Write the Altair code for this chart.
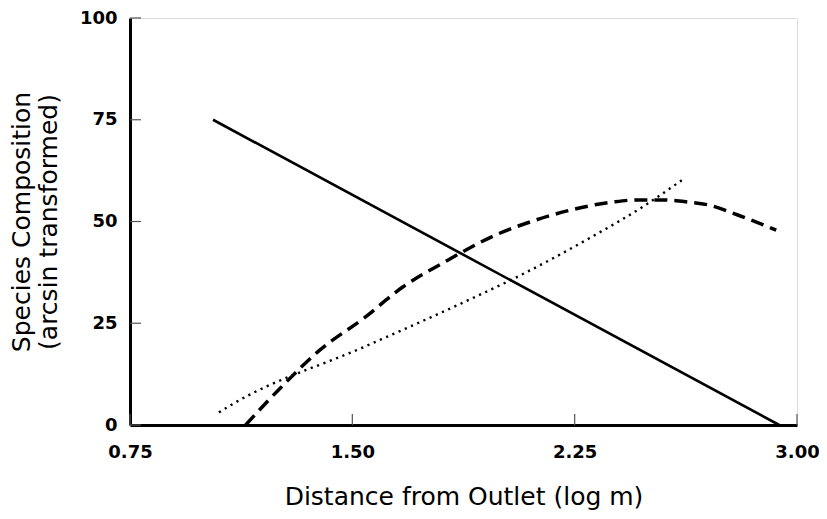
import altair as alt
import pandas as pd

# Axis ticks
x_ticks = [0.75, 1.50, 2.25, 3.00]
y_ticks = [0, 25, 50, 75, 100]

# Solid line
solid_x = [1.03, 2.94]
solid_y = [75.0, 0.0]

# Dashed curve
dashed_x = [1.14, 1.26, 1.39, 1.54, 1.67, 1.81, 1.99, 2.10, 2.23, 2.38, 2.46, 2.54, 2.63, 2.70, 2.80, 2.93]
dashed_y = [0.0, 9.3, 18.4, 26.3, 33.9, 40.0, 46.9, 49.9, 52.7, 54.8, 55.3, 55.3, 54.8, 54.1, 51.6, 47.9]

# Dotted curve
dotted_x = [1.05, 1.10, 1.54, 1.88, 2.07, 2.29, 2.49, 2.62]
dotted_y = [3.1, 5.3, 19.2, 30.3, 36.9, 45.5, 54.1, 60.6]

W, H = 667, 407
FONT = "DejaVu Sans"

xscale = alt.Scale(domain=[0.75, 3.0], nice=False, zero=False)
yscale = alt.Scale(domain=[0, 100], nice=False, zero=False)

common_axis = dict(
    grid=False, ticks=False, tickSize=0,
    domainColor="black", domainWidth=3,
    labelFont=FONT, labelFontWeight="bold", labelFontSize=18, labelColor="black",
    titleFont=FONT, titleFontWeight="normal", titleFontSize=25, titleColor="black",
)
xaxis = alt.Axis(values=x_ticks, format=".2f", title="Distance from Outlet (log m)",
                 labelPadding=18, labelFlush=False, titlePadding=23, **common_axis)
yaxis = alt.Axis(values=y_ticks, format="d", title=["Species Composition", "(arcsin transformed)"],
                 labelPadding=13, titlePadding=18, titleLineHeight=27, **common_axis)

X = alt.X("x:Q", scale=xscale, axis=xaxis)
Y = alt.Y("y:Q", scale=yscale, axis=yaxis)

solid_df = pd.DataFrame({"x": solid_x, "y": solid_y})
dashed_df = pd.DataFrame({"x": dashed_x, "y": dashed_y})
dotted_df = pd.DataFrame({"x": dotted_x, "y": dotted_y})
xt_df = pd.DataFrame({"x": x_ticks})
yt_df = pd.DataFrame({"y": y_ticks})

solid = alt.Chart(solid_df).mark_line(color="black", strokeWidth=2.6).encode(x=X, y=Y)
dashed = alt.Chart(dashed_df).mark_line(
    color="black", strokeWidth=3.5, strokeDash=[13, 7], interpolate="monotone"
).encode(x=X, y=Y)
dotted = alt.Chart(dotted_df).mark_line(
    color="black", strokeWidth=2.4, strokeDash=[2.2, 4.6], interpolate="monotone"
).encode(x=X, y=Y)

xtick_marks = alt.Chart(xt_df).mark_rule(color="#555", strokeWidth=1.2).encode(
    x=X, y=alt.value(H), y2=alt.value(H - 11)
)
ytick_marks = alt.Chart(yt_df).mark_rule(color="#555", strokeWidth=1.2).encode(
    y=Y, x=alt.value(0), x2=alt.value(11)
)

chart = alt.layer(dotted, dashed, solid, xtick_marks, ytick_marks).properties(
    width=W, height=H,
    autosize=alt.AutoSizeParams(type="none"),
    padding={"left": 122, "top": 10, "right": 22, "bottom": 86},
).configure_view(stroke=None).configure(background="white")

chart.save("out.html", embed_options={"renderer": "svg", "actions": False})
